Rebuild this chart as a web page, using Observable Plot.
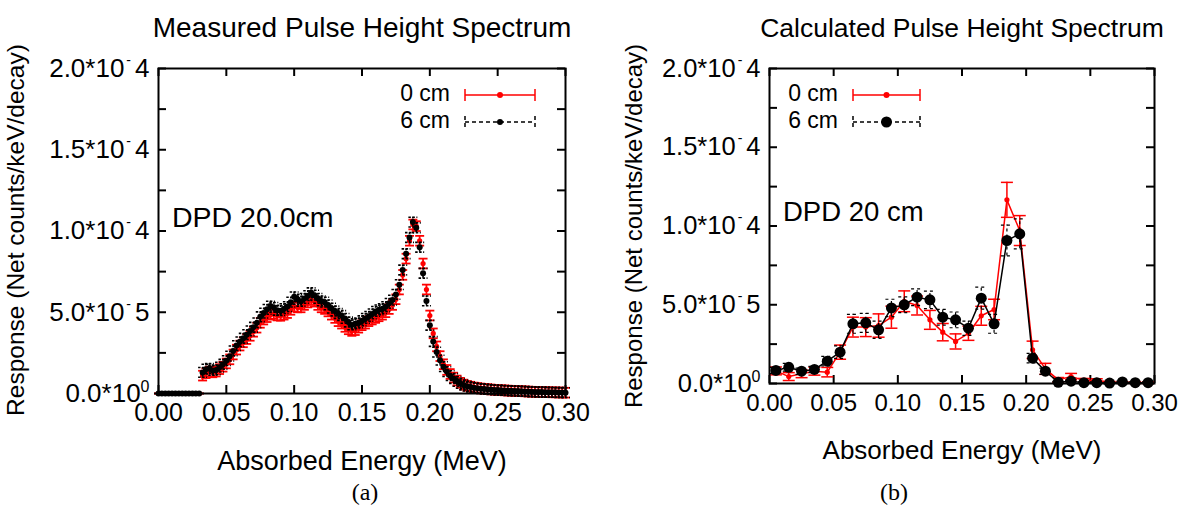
<!DOCTYPE html>
<html><head><meta charset="utf-8">
<script src="https://cdn.jsdelivr.net/npm/d3@7"></script>
<script src="https://cdn.jsdelivr.net/npm/@observablehq/plot@0.6"></script>
<style>
body{margin:0;background:#fff;}
#wrap{position:relative;width:1189px;height:512px;overflow:hidden;font-family:"Liberation Sans",Arial,sans-serif;background:#fff;}
#wrap svg{position:absolute;top:0;}
</style></head><body><div id="wrap"></div>
<script>
// ---------- data (response in units of 1e-5 counts/keV/decay) ----------
const xTicks = [0, 0.05, 0.10, 0.15, 0.20, 0.25, 0.30];
const yTicks = [0, 5, 10, 15, 20];
const yTickLabels = ["0.0*10^0", "5.0*10^-5", "1.0*10^-4", "1.5*10^-4", "2.0*10^-4"];
const yMinorTicks = [0, 2.5, 5, 7.5, 10, 12.5, 15, 17.5, 20];
const seriesNames = ["0 cm", "6 cm"];

// (a) measured spectrum
const measE = [0.0000,0.0025,0.0050,0.0075,0.0100,0.0125,0.0150,0.0175,0.0200,0.0225,0.0250,0.0275,0.0300,
0.0325,0.0350,0.0375,0.0400,0.0425,0.0450,0.0475,0.0500,0.0525,0.0550,0.0575,0.0600,0.0625,0.0650,0.0675,0.0700,
0.0725,0.0750,0.0775,0.0800,0.0825,0.0850,0.0875,0.0900,0.0925,0.0950,0.0975,0.1000,0.1025,0.1050,0.1075,0.1100,
0.1125,0.1150,0.1175,0.1200,0.1225,0.1250,0.1275,0.1300,0.1325,0.1350,0.1375,0.1400,0.1425,0.1450,0.1475,0.1500,
0.1525,0.1550,0.1575,0.1600,0.1625,0.1650,0.1675,0.1700,0.1725,0.1750,0.1775,0.1800,0.1825,0.1850,0.1875,0.1900,
0.1925,0.1950,0.1975,0.2000,0.2025,0.2050,0.2075,0.2100,0.2125,0.2150,0.2175,0.2200,0.2225,0.2250,0.2275,0.2300,
0.2325,0.2350,0.2375,0.2400,0.2425,0.2450,0.2475,0.2500,0.2525,0.2550,0.2575,0.2600,0.2625,0.2650,0.2675,0.2700,
0.2725,0.2750,0.2775,0.2800,0.2825,0.2850,0.2875,0.2900,0.2925,0.2950,0.2975,0.3000];
const meas0cm = [0,0,0,0,0,0,0,0,0,0,0,0,0,
1.10,1.25,1.35,1.30,1.35,1.50,1.65,1.85,2.10,2.40,2.70,2.95,3.15,3.35,3.55,3.80,4.05,4.35,4.55,4.70,4.85,4.90,
4.80,4.78,4.85,4.95,5.15,5.35,5.30,5.30,5.45,5.60,5.75,5.65,5.45,5.30,5.20,5.05,4.85,4.65,4.45,4.30,4.10,3.95,
3.85,3.90,4.05,4.20,4.30,4.45,4.55,4.65,4.75,4.85,5.00,5.20,5.45,5.80,6.40,7.30,8.30,9.40,10.40,10.30,9.40,8.00,
6.40,4.80,3.70,2.90,2.30,1.80,1.45,1.20,0.98,0.80,0.66,0.55,0.47,0.42,0.37,0.34,0.31,0.29,0.27,0.25,0.23,0.22,
0.20,0.19,0.18,0.17,0.16,0.15,0.14,0.13,0.12,0.11,0.10,0.09,0.09,0.08,0.08,0.07,0.07,0.06,0.06,0.05];
const meas6cm = [0,0,0,0,0,0,0,0,0,0,0,0,0,
1.30,1.50,1.55,1.42,1.45,1.62,1.80,2.02,2.30,2.62,2.95,3.18,3.40,3.62,3.85,4.08,4.35,4.72,4.95,5.18,5.38,5.30,
5.12,5.10,5.22,5.35,5.62,5.95,5.80,5.68,5.85,6.02,6.20,6.05,5.85,5.70,5.62,5.45,5.25,5.08,4.92,4.80,4.62,4.40,
4.22,4.30,4.35,4.48,4.62,4.75,4.90,5.05,5.15,5.22,5.35,5.55,5.75,6.10,6.70,7.60,8.60,9.60,10.55,10.20,9.00,7.40,
5.70,4.20,3.20,2.55,2.05,1.65,1.35,1.10,0.92,0.75,0.62,0.52,0.45,0.40,0.36,0.33,0.30,0.28,0.26,0.24,0.22,0.21,
0.20,0.19,0.18,0.17,0.16,0.15,0.14,0.13,0.12,0.11,0.10,0.09,0.09,0.08,0.08,0.07,0.07,0.06,0.06,0.05];
const measErr0cm = 0.3;
const measErr6cm = 0.3;

// (b) calculated spectrum
const calcE = [0.005,0.015,0.025,0.035,0.045,0.055,0.065,0.075,0.085,0.095,0.105,0.115,0.125,0.135,0.145,
0.155,0.165,0.175,0.185,0.195,0.205,0.215,0.225,0.235,0.245,0.255,0.265,0.275,0.285,0.295];
const calc0cm = [0.80,0.44,0.62,0.78,0.72,1.99,3.58,3.58,3.68,4.21,5.22,4.95,4.04,3.26,2.67,
3.19,4.30,4.70,11.66,9.71,2.14,0.93,0.23,0.44,0.20,0.20,0.08,0.06,0.05,0.05];
const calcErr0cm = [0.25,0.25,0.25,0.25,0.30,0.45,0.63,0.60,0.74,0.70,0.66,0.60,0.60,0.55,0.48,
0.45,0.60,0.65,1.11,0.95,0.55,0.35,0.15,0.20,0.12,0.10,0.05,0.05,0.05,0.05];
const calc6cm = [0.83,1.03,0.78,0.89,1.42,1.99,3.79,3.85,3.41,4.80,5.00,5.48,5.31,4.21,4.04,
3.51,5.42,3.79,9.08,9.50,1.61,0.78,0.08,0.15,0.05,0.05,0.03,0.10,0.05,0.05];
const calcErr6cm = [0.20,0.25,0.20,0.20,0.30,0.40,0.60,0.60,0.55,0.55,0.50,0.53,0.55,0.50,0.50,
0.45,0.70,0.60,0.98,0.95,0.30,0.20,0.05,0.05,0.05,0.05,0.05,0.05,0.05,0.05];

// ---------- helpers ----------
const RED = "#ff0000";
const hline = {draw(ctx, size){ const r = Math.sqrt(size / Math.PI); ctx.moveTo(-r, 0); ctx.lineTo(r, 0); }};
const rows = (E, v, e) => E.map((x, i) => ({E: x, v: v[i], e: Array.isArray(e) ? e[i] : (v[i] === 0 ? 0 : e)}));

function errMarks(data, {color, dash, capR, sw}) {
  const o = {x: "E", stroke: color, strokeWidth: sw, strokeDasharray: dash};
  return [
    Plot.ruleX(data, {...o, y1: d => d.v - d.e, y2: d => d.v + d.e}),
    Plot.dot(data, {...o, y: d => d.v + d.e, symbol: hline, r: capR, fill: "none"}),
    Plot.dot(data, {...o, y: d => d.v - d.e, symbol: hline, r: capR, fill: "none"})
  ];
}

function panel({width, ml, mr, mt, mb, xFont, yFont, marks}) {
  const innerW = width - ml - mr, innerH = 512 - mt - mb, tl = 8;
  const svg = Plot.plot({
    width, height: 512, marginLeft: ml, marginRight: mr, marginTop: mt, marginBottom: mb,
    style: {fontFamily: '"Liberation Sans", Arial, sans-serif', color: "black", background: "transparent", overflow: "visible"},
    x: {domain: [0, 0.3]},
    y: {domain: [0, 20]},
    marks: [
      Plot.ruleX(xTicks, {x: d => d, insetTop: innerH - tl, stroke: "black", strokeWidth: 2}),
      Plot.ruleX(xTicks, {x: d => d, insetBottom: innerH - tl, stroke: "black", strokeWidth: 2}),
      Plot.ruleY(yMinorTicks, {y: d => d, insetRight: innerW - tl, stroke: "black", strokeWidth: 2}),
      Plot.ruleY(yMinorTicks, {y: d => d, insetLeft: innerW - tl, stroke: "black", strokeWidth: 2}),
      Plot.axisX(xTicks, {tickSize: 0, tickPadding: 10, tickFormat: d => d.toFixed(2), label: null, fontSize: xFont}),
      Plot.axisY(yTicks, {tickSize: 0, tickPadding: 9, tickFormat: d => yTickLabels[yTicks.indexOf(d)], label: null, fontSize: yFont}),
      ...marks,
      Plot.frame({stroke: "black", strokeWidth: 2})
    ]
  });
  d3.select(svg).selectAll('g[aria-label="y-axis tick label"] text').each(function () {
    const [base, ex] = this.textContent.split("^");
    const t = d3.select(this).text(null);
    t.append("tspan").text(base);
    if (ex.startsWith("-")) {
      t.append("tspan").attr("dx", 2).attr("dy", -12).attr("font-size", 14).text("-");
      t.append("tspan").attr("dx", 4).attr("dy", 12).text(ex.slice(1));
    } else {
      t.append("tspan").attr("dy", -10).attr("font-size", 16).text(ex);
    }
  });
  return svg;
}

const wrap = document.getElementById("wrap");

// ---------- (a) ----------
const m0 = rows(measE, meas0cm, measErr0cm);
const m6 = rows(measE, meas6cm, measErr6cm);
const svgA = panel({
  width: 600, ml: 158, mr: 35, mt: 68, mb: 119, xFont: 25, yFont: 26,
  marks: [
    ...errMarks(m0, {color: RED, dash: null, capR: 4.5, sw: 1.8}),
    Plot.dot(m0, {x: "E", y: "v", r: 2.6, fill: RED}),
    ...errMarks(m6, {color: "black", dash: "2.5,1.5", capR: 4.5, sw: 1.6}),
    Plot.dot(m6, {x: "E", y: "v", r: 3, fill: "black"})
  ]
});
svgA.style.left = "0px";
wrap.appendChild(svgA);

// ---------- (b) ----------
const c0 = rows(calcE, calc0cm, calcErr0cm);
const c6 = rows(calcE, calc6cm, calcErr6cm);
const svgB = panel({
  width: 589, ml: 169, mr: 35, mt: 68, mb: 129, xFont: 24, yFont: 25.5,
  marks: [
    Plot.line(c0, {x: "E", y: "v", stroke: RED, strokeWidth: 1.5}),
    ...errMarks(c0, {color: RED, dash: null, capR: 6, sw: 1.5}),
    Plot.dot(c0, {x: "E", y: "v", r: 2.6, fill: RED}),
    Plot.line(c6, {x: "E", y: "v", stroke: "black", strokeWidth: 1.5}),
    ...errMarks(c6, {color: "black", dash: "3,3", capR: 6, sw: 1.2}),
    Plot.dot(c6, {x: "E", y: "v", r: 5.5, fill: "black"})
  ]
});
svgB.style.left = "600px";
wrap.appendChild(svgB);

// ---------- overlay texts & legends ----------
const ov = d3.select(wrap).append("svg").attr("width", 1189).attr("height", 512)
  .style("left", "0px").style("pointer-events", "none")
  .attr("font-family", '"Liberation Sans", Arial, sans-serif').attr("fill", "black");

function txt(x, y, s, size, anchor = "middle", base = "middle", extra = {}) {
  const t = ov.append("text").attr("x", x).attr("y", y).attr("font-size", size)
    .attr("text-anchor", anchor).attr("dominant-baseline", base).text(s);
  for (const k in extra) t.attr(k, extra[k]);
  return t;
}
txt(362, 30, "Measured Pulse Height Spectrum", 28);
txt(962, 30, "Calculated Pulse Height Spectrum", 26.5);
txt(0, 0, "Response (Net counts/keV/decay)", 24.5, "middle", "middle", {transform: "translate(18,230) rotate(-90)"});
txt(0, 0, "Response (Net counts/keV/decay)", 24, "middle", "middle", {transform: "translate(636,226) rotate(-90)"});
txt(362, 463, "Absorbed Energy (MeV)", 27);
txt(962, 452, "Absorbed Energy (MeV)", 26);
txt(172, 227, "DPD 20.0cm", 28.5, "start", "alphabetic");
txt(783, 221, "DPD 20 cm", 27.5, "start", "alphabetic");
txt(365, 494, "(a)", 24, "middle", "middle", {"font-family": '"Liberation Serif", "Times New Roman", serif'});
txt(894, 494, "(b)", 24, "middle", "middle", {"font-family": '"Liberation Serif", "Times New Roman", serif'});

function legend(xText, x1, x2, blackR) {
  const xm = (x1 + x2) / 2;
  const items = [
    {name: seriesNames[0], y: 95, color: RED, dash: null, r: 3},
    {name: seriesNames[1], y: 122, color: "black", dash: "4,3", r: blackR}
  ];
  for (const it of items) {
    txt(xText, it.y, it.name, 23, "end", "middle");
    const g = ov.append("g").attr("stroke", it.color).attr("stroke-width", 1.5).attr("stroke-dasharray", it.dash);
    g.append("line").attr("x1", x1).attr("x2", x2).attr("y1", it.y).attr("y2", it.y);
    g.append("line").attr("x1", x1).attr("x2", x1).attr("y1", it.y - 6).attr("y2", it.y + 6);
    g.append("line").attr("x1", x2).attr("x2", x2).attr("y1", it.y - 6).attr("y2", it.y + 6);
    ov.append("circle").attr("cx", xm).attr("cy", it.y).attr("r", it.r).attr("fill", it.color);
  }
}
legend(450, 465, 535, 3);
legend(838, 853, 920, 5.5);
</script></body></html>
